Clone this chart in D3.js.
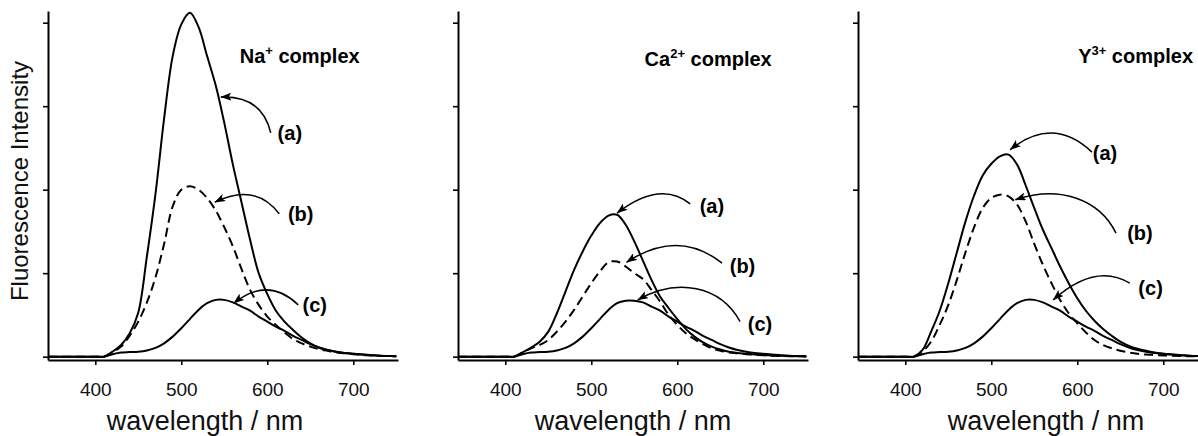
<!DOCTYPE html>
<html>
<head>
<meta charset="utf-8">
<script src="https://cdn.jsdelivr.net/npm/d3@7"></script>
<style>
  body { margin: 0; background: #fff; }
  svg { display: block; font-family: "Liberation Sans", Arial, sans-serif; }
</style>
</head>
<body>
<div id="chart"></div>
<script>
// wavelength grid in nm (shared by every spectrum)
const wavelengths = [345, 370, 400, 410, 420, 430, 440, 450, 460, 470, 480, 490, 500, 510, 520, 530, 540, 550, 560, 570, 580, 590, 600, 610, 620, 630, 640, 650, 660, 670, 680, 690, 700, 710, 720, 730, 740, 750];

// Na+ complex
const naA = [0, 0, 0, 0, 0.06, 0.14, 0.28, 0.53, 1.2, 1.95, 2.85, 3.6, 3.98, 4.12, 3.95, 3.6, 3.25, 2.8, 2.3, 1.85, 1.4, 1.0, 0.75, 0.55, 0.42, 0.32, 0.23, 0.16, 0.11, 0.08, 0.06, 0.045, 0.035, 0.025, 0.02, 0.012, 0.008, 0.005];
const naB = [0, 0, 0, 0, 0.05, 0.12, 0.25, 0.42, 0.65, 0.95, 1.35, 1.8, 2.0, 2.04, 2.0, 1.9, 1.75, 1.55, 1.32, 1.05, 0.8, 0.62, 0.48, 0.38, 0.29, 0.21, 0.16, 0.12, 0.09, 0.07, 0.05, 0.04, 0.03, 0.02, 0.015, 0.01, 0.007, 0.005];
const naC = [0, 0, 0, 0, 0.03, 0.05, 0.055, 0.06, 0.075, 0.105, 0.16, 0.24, 0.34, 0.45, 0.56, 0.64, 0.68, 0.68, 0.65, 0.6, 0.55, 0.48, 0.42, 0.36, 0.31, 0.25, 0.2, 0.15, 0.11, 0.08, 0.06, 0.045, 0.035, 0.025, 0.018, 0.012, 0.008, 0.005];

// Ca2+ complex
const caA = [0, 0, 0, 0, 0.05, 0.11, 0.18, 0.3, 0.52, 0.78, 1.04, 1.26, 1.45, 1.6, 1.69, 1.7, 1.58, 1.38, 1.15, 0.92, 0.72, 0.58, 0.45, 0.33, 0.24, 0.17, 0.12, 0.085, 0.06, 0.045, 0.035, 0.025, 0.02, 0.015, 0.01, 0.007, 0.005, 0.003];
const caB = [0, 0, 0, 0, 0.05, 0.1, 0.14, 0.2, 0.3, 0.42, 0.56, 0.72, 0.88, 1.02, 1.13, 1.14, 1.08, 1.0, 0.93, 0.8, 0.66, 0.5, 0.38, 0.28, 0.21, 0.15, 0.1, 0.07, 0.05, 0.04, 0.03, 0.022, 0.016, 0.011, 0.008, 0.006, 0.004, 0.003];
const caC = [0, 0, 0, 0, 0.03, 0.05, 0.055, 0.06, 0.075, 0.105, 0.16, 0.24, 0.34, 0.45, 0.56, 0.64, 0.67, 0.67, 0.65, 0.6, 0.55, 0.48, 0.42, 0.36, 0.31, 0.25, 0.2, 0.15, 0.11, 0.08, 0.06, 0.045, 0.035, 0.025, 0.018, 0.012, 0.008, 0.005];

// Y3+ complex
const yA = [0, 0, 0, 0, 0.08, 0.3, 0.55, 0.88, 1.25, 1.62, 1.93, 2.17, 2.31, 2.4, 2.42, 2.3, 2.05, 1.78, 1.52, 1.3, 1.08, 0.88, 0.7, 0.55, 0.43, 0.33, 0.25, 0.18, 0.13, 0.095, 0.07, 0.05, 0.035, 0.025, 0.018, 0.012, 0.008, 0.005];
const yB = [0, 0, 0, 0, 0.06, 0.18, 0.38, 0.62, 0.92, 1.25, 1.55, 1.78, 1.9, 1.94, 1.92, 1.82, 1.62, 1.35, 1.1, 0.88, 0.68, 0.52, 0.4, 0.29, 0.2, 0.14, 0.1, 0.07, 0.05, 0.035, 0.025, 0.02, 0.015, 0.01, 0.007, 0.005, 0.003, 0.002];
const yC = [0, 0, 0, 0, 0.03, 0.05, 0.055, 0.06, 0.075, 0.105, 0.16, 0.24, 0.34, 0.45, 0.56, 0.64, 0.68, 0.68, 0.65, 0.6, 0.55, 0.48, 0.42, 0.36, 0.31, 0.25, 0.2, 0.15, 0.11, 0.08, 0.06, 0.045, 0.035, 0.025, 0.018, 0.012, 0.008, 0.005];

const xTicks = [400, 500, 600, 700];
const yTicks = [0, 1, 2, 3, 4];
const ions = ["Na", "Ca", "Y"];
const charges = ["+", "2+", "3+"];
const seriesLabels = ["(a)", "(b)", "(c)"];

// label anchor and arrow (start, control(s), tip) in data units [nm, intensity]
const naNotes = [
  { at: [612, 2.6], arrow: [[604, 2.68], [594, 3.13], [546, 3.11]] },
  { at: [624, 1.62], arrow: [[614, 1.71], [586, 2.09], [539, 1.85]] },
  { at: [641, 0.54], arrow: [[636, 0.62], [601, 0.97], [561, 0.64]] }
];
const caNotes = [
  { at: [626, 1.72], arrow: [[615, 1.83], [580, 2.12], [530, 1.72]] },
  { at: [661, 1.0], arrow: [[652, 1.12], [601, 1.54], [541, 1.13]] },
  { at: [682, 0.31], arrow: [[673, 0.42], [650, 0.85], [600, 0.95], [554, 0.68]] }
];
const yNotes = [
  { at: [618, 2.36], arrow: [[617, 2.45], [572, 2.89], [522, 2.48]] },
  { at: [658, 1.4], arrow: [[645, 1.48], [626, 1.88], [580, 2.06], [528, 1.88]] },
  { at: [671, 0.74], arrow: [[661, 0.88], [621, 1.13], [572, 0.68]] }
];
const titleAt = [[568, 3.52], [562, 3.48], [601, 3.52]];

const width = 1198, height = 436;
const panelOffsets = [0, 410, 810];
const titleCenters = [205, 223, 236];

const x = d3.scaleLinear().domain([345, 752]).range([48, 398]);
const y = d3.scaleLinear().domain([-0.04, 4.14]).range([360, 11]);

const svg = d3
  .select("#chart")
  .append("svg")
  .attr("width", width)
  .attr("height", height);

svg
  .append("defs")
  .append("marker")
  .attr("id", "head")
  .attr("viewBox", "0 0 11 8")
  .attr("refX", 10.5)
  .attr("refY", 4)
  .attr("markerWidth", 11)
  .attr("markerHeight", 8)
  .attr("markerUnits", "userSpaceOnUse")
  .attr("orient", "auto")
  .append("path")
  .attr("d", "M0,0 L11,4 L0,8 L2.5,4 Z")
  .attr("fill", "#000");

const line = d3
  .line()
  .x((d, i) => x(wavelengths[i]))
  .y((d) => y(d))
  .curve(d3.curveCatmullRom.alpha(0.5));

const panels = [
  { series: [naA, naB, naC], notes: naNotes },
  { series: [caA, caB, caC], notes: caNotes },
  { series: [yA, yB, yC], notes: yNotes }
];

panels.forEach((p, k) => {
  const g = svg.append("g").attr("transform", `translate(${panelOffsets[k]},0)`);

  // axes
  const gx = g
    .append("g")
    .attr("transform", `translate(0,${y.range()[0]})`)
    .call(d3.axisBottom(x).tickValues(xTicks).tickSize(5).tickSizeOuter(0).tickPadding(18));
  const gy = g
    .append("g")
    .attr("transform", `translate(${x.range()[0]},0)`)
    .call(d3.axisLeft(y).tickValues(yTicks).tickSize(5).tickSizeOuter(0).tickFormat(""));

  [gx, gy].forEach((a) => {
    a.select(".domain").attr("stroke", "#000").attr("stroke-width", 2);
    a.selectAll(".tick line").attr("stroke", "#000").attr("stroke-width", 1.6);
  });
  gx.selectAll(".tick text")
    .attr("fill", "#111")
    .style("font-size", "19px")
    .style("font-family", "Liberation Sans, Arial, sans-serif");

  g.append("text")
    .attr("x", titleCenters[k])
    .attr("y", 430)
    .attr("text-anchor", "middle")
    .style("font-size", "27px")
    .attr("fill", "#111")
    .text("wavelength / nm");

  // spectra
  p.series.forEach((s, i) => {
    g.append("path")
      .datum(s)
      .attr("d", line)
      .attr("fill", "none")
      .attr("stroke", "#000")
      .attr("stroke-width", 2)
      .attr("stroke-linejoin", "round")
      .attr("stroke-dasharray", i === 1 ? "9,5" : null);
  });

  // title
  const t = g
    .append("text")
    .attr("x", x(titleAt[k][0]))
    .attr("y", y(titleAt[k][1]))
    .style("font-size", "20px")
    .style("font-weight", "bold");
  t.append("tspan").text(ions[k]);
  t.append("tspan").attr("dy", -8).style("font-size", "13px").text(charges[k]);
  t.append("tspan").attr("dy", 8).text(" complex");

  // labels with arrows
  p.notes.forEach((n, i) => {
    const pts = n.arrow.map((d) => [x(d[0]), y(d[1])]);
    const path = d3.path();
    path.moveTo(...pts[0]);
    if (pts.length === 3) path.quadraticCurveTo(...pts[1], ...pts[2]);
    else path.bezierCurveTo(...pts[1], ...pts[2], ...pts[3]);
    g.append("path")
      .attr("d", path.toString())
      .attr("fill", "none")
      .attr("stroke", "#000")
      .attr("stroke-width", 1.5)
      .attr("marker-end", "url(#head)");
    g.append("text")
      .attr("x", x(n.at[0]))
      .attr("y", y(n.at[1]))
      .style("font-size", "20px")
      .style("font-weight", "bold")
      .text(seriesLabels[i]);
  });
});

svg
  .append("text")
  .attr("transform", "translate(28,181) rotate(-90)")
  .attr("text-anchor", "middle")
  .style("font-size", "24px")
  .attr("fill", "#111")
  .text("Fluorescence Intensity");
</script>
</body>
</html>
